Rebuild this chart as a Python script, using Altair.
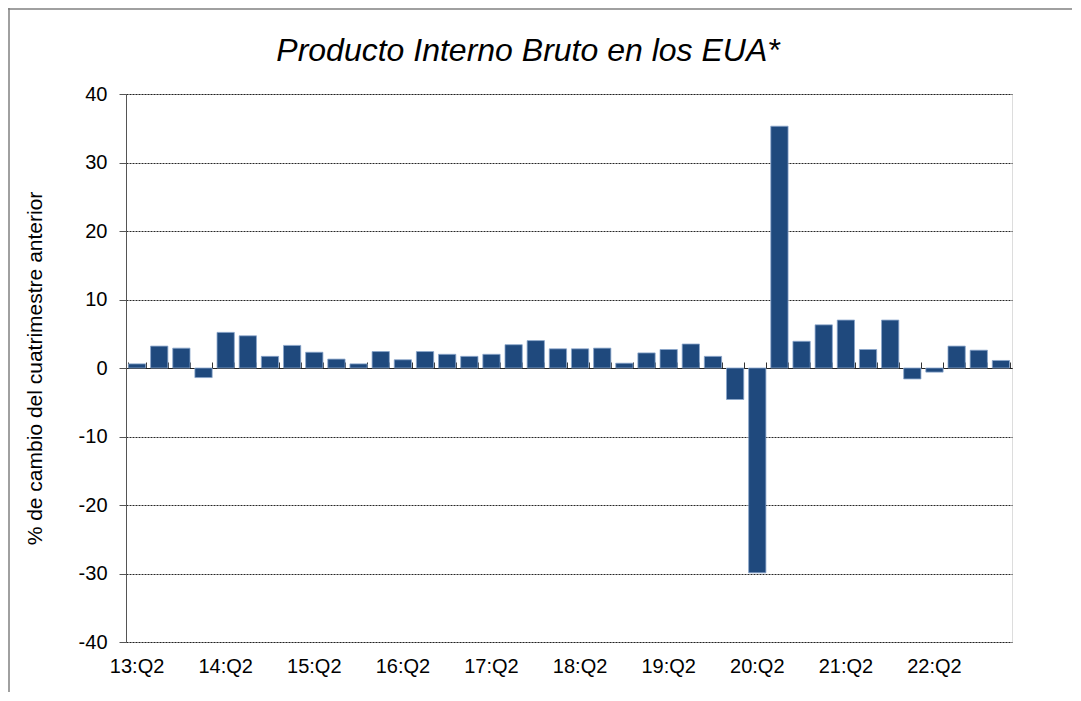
import altair as alt
import pandas as pd

periods = [
    "13:Q2", "13:Q3", "13:Q4",
    "14:Q1", "14:Q2", "14:Q3", "14:Q4",
    "15:Q1", "15:Q2", "15:Q3", "15:Q4",
    "16:Q1", "16:Q2", "16:Q3", "16:Q4",
    "17:Q1", "17:Q2", "17:Q3", "17:Q4",
    "18:Q1", "18:Q2", "18:Q3", "18:Q4",
    "19:Q1", "19:Q2", "19:Q3", "19:Q4",
    "20:Q1", "20:Q2", "20:Q3", "20:Q4",
    "21:Q1", "21:Q2", "21:Q3", "21:Q4",
    "22:Q1", "22:Q2", "22:Q3", "22:Q4",
    "23:Q1",
]
growth = [
    0.6, 3.2, 2.9,
    -1.4, 5.2, 4.7, 1.7,
    3.3, 2.3, 1.3, 0.6,
    2.4, 1.2, 2.4, 2.0,
    1.7, 2.0, 3.4, 4.0,
    2.8, 2.8, 2.9, 0.7,
    2.2, 2.7, 3.5, 1.7,
    -4.6, -29.9, 35.3, 3.9,
    6.3, 7.0, 2.7, 7.0,
    -1.6, -0.6, 3.2, 2.6,
    1.1,
]
y_ticks = [-40, -30, -20, -10, 0, 10, 20, 30, 40]
title_text = ["Producto Interno Bruto en los EUA*"]

df = pd.DataFrame({"periodo": periods, "valor": growth})
df_title = pd.DataFrame({"t": title_text})

FONT = "Liberation Sans"
W, H = 886, 548

xscale = alt.Scale(domain=periods, paddingInner=0.22, paddingOuter=0.11)
yscale = alt.Scale(domain=[-40, 40], nice=False, zero=False)

bars = alt.Chart(df).mark_bar(
    color="#1F497D", stroke="#8aa6cc", strokeWidth=0.8
).encode(
    x=alt.X("periodo:N", scale=xscale, sort=periods, title=None,
            axis=alt.Axis(labelExpr="slice(datum.value, 3) == 'Q2' ? datum.value : ''",
                          labelAngle=0, labelOverlap=False, ticks=False, tickSize=0,
                          domain=False, labelPadding=14, labelFontSize=20,
                          labelFont=FONT, labelColor="#000000")),
    y=alt.Y("valor:Q", scale=yscale,
            title="% de cambio del cuatrimestre anterior",
            axis=alt.Axis(values=y_ticks, labelExpr="'' + datum.value",
                          grid=True, gridColor="#000000",
                          gridDash=[2, 1], gridWidth=1, gridOpacity=0.85,
                          tickSize=7, tickColor="#555555", domainColor="#555555",
                          labelPadding=12, labelFontSize=20, labelFont=FONT,
                          labelColor="#000000", titleFontSize=21, titleFont=FONT,
                          titleFontWeight="normal", titleColor="#000000",
                          titlePadding=33)),
)

zero_axis = alt.Chart(df).mark_tick(opacity=0).encode(
    x=alt.X("periodo:N", scale=xscale, sort=periods, title=None,
            axis=alt.Axis(labels=False, ticks=True, tickBand="extent", tickSize=6,
                          tickColor="#333333", domain=True, domainColor="#222222",
                          domainWidth=1.2, offset=-H / 2, grid=False)),
    y=alt.Y("valor:Q", scale=yscale),
)

title = alt.Chart(df_title).mark_text(
    font=FONT, fontSize=32, fontStyle="italic", fontWeight="normal",
    color="#000000", align="center", baseline="alphabetic"
).encode(
    text="t:N", x=alt.value(402), y=alt.value(-33)
)

frame_left = alt.Chart(df_title).mark_rule(color="#808080", strokeWidth=1.5).encode(
    x=alt.value(-117), y=alt.value(-86), y2=alt.value(H + 60)
)
frame_top = alt.Chart(df_title).mark_rule(color="#808080", strokeWidth=1.5).encode(
    x=alt.value(-118), x2=alt.value(W + 60), y=alt.value(-85)
)

chart = alt.layer(bars, zero_axis, title, frame_left, frame_top).resolve_axis(
    x="independent"
).properties(
    width=W,
    height=H,
    autosize=alt.AutoSizeParams(type="none"),
    padding={"left": 118, "top": 86, "right": 60, "bottom": 50},
).configure_view(
    stroke="#808080", strokeWidth=2
).configure(background="#ffffff")

chart.save("out.html", embed_options={"renderer": "svg", "actions": False})
